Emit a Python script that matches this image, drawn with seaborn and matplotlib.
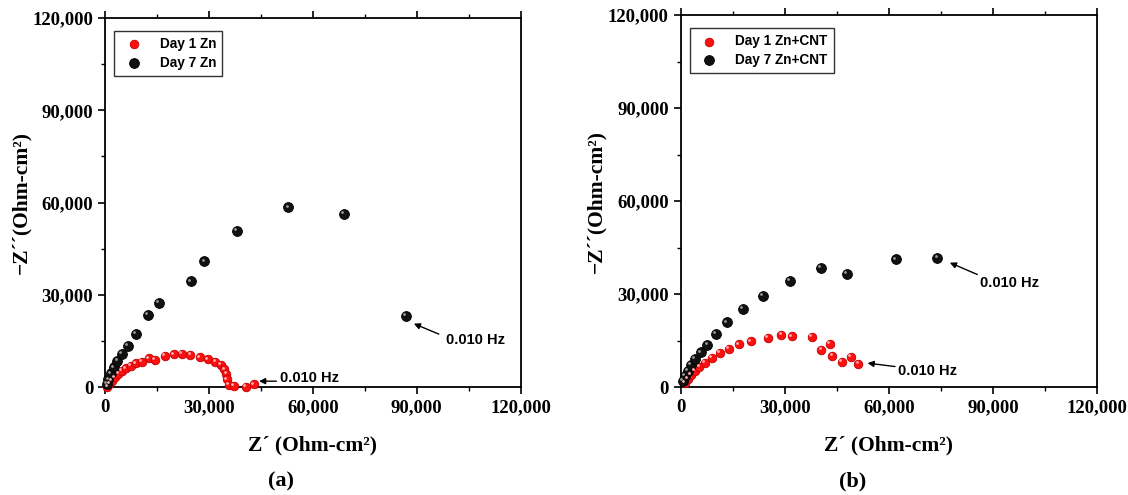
import numpy as np
import pandas as pd
import matplotlib
matplotlib.use("Agg")
import matplotlib.pyplot as plt
import matplotlib.ticker as mticker
import matplotlib.transforms as mtransforms
import seaborn as sns

# dados (Z' , -Z'')
zn_d1_x = [680, 1260, 2030, 2900, 3870, 4930, 6090, 7440, 8990, 10640, 12570, 14500,
           17400, 20000, 22240, 24650, 27350, 29680, 31900, 33550, 34510, 35090,
           35280, 35670, 37200, 40800, 43000]
zn_d1_y = [100, 970, 2050, 3130, 4210, 5180, 6050, 6910, 7670, 8210, 9290, 8750,
           10040, 10590, 10700, 10370, 9610, 8960, 8210, 7130, 5720, 4210,
           2480, 650, 320, 0, 870]
zn_d7_x = [480, 960, 1740, 2610, 3580, 4930, 6670, 8900, 12380, 15660, 24850,
           28710, 37990, 52970, 68930, 86900]
zn_d7_y = [970, 2490, 4440, 6380, 8420, 10690, 13380, 17270, 23330, 27440, 34340,
           40820, 50640, 58420, 56280, 23000]

cnt_d1_x = [1250, 2030, 2990, 4150, 5420, 7050, 8990, 11400, 13830, 16820, 20300,
            25140, 29090, 32190, 37790, 40600, 43110, 43790, 46400, 49100, 51240]
cnt_d1_y = [1200, 2490, 3890, 5180, 6580, 7870, 9290, 10920, 12410, 13710, 14680,
            15780, 16850, 16300, 16100, 11990, 13930, 10040, 8000, 9620, 7450]
cnt_d7_x = [580, 1250, 2030, 2990, 4150, 5800, 7740, 10240, 13430, 18070, 23780,
            31520, 40510, 47850, 62150, 74040]
cnt_d7_y = [2050, 3560, 5280, 7130, 8970, 11130, 13610, 17080, 20840, 25170, 29480,
            34340, 38460, 36510, 41150, 41700]

paineis = [
    {"sub": "(a)", "names": ["Day 1 Zn", "Day 7 Zn"],
     "d1": (zn_d1_x, zn_d1_y), "d7": (zn_d7_x, zn_d7_y),
     # (texto x, texto y, cauda x, cauda y, ponta x, ponta y)
     "notas": [(50500, 2900, 49500, 1900, 44500, 1900),
               (98600, 15200, 96400, 17200, 89200, 20600)]},
    {"sub": "(b)", "names": ["Day 1 Zn+CNT", "Day 7 Zn+CNT"],
     "d1": (cnt_d1_x, cnt_d1_y), "d7": (cnt_d7_x, cnt_d7_y),
     "notas": [(62600, 5200, 61800, 6600, 53900, 7700),
               (86400, 33700, 85500, 36300, 77600, 40100)]},
]

SERIF = "Liberation Serif"
SANS = "Liberation Sans"

sns.set_style("white")
plt.rcParams["font.family"] = [SERIF, "DejaVu Serif"]
plt.rcParams["text.color"] = "black"
plt.rcParams["axes.labelcolor"] = "black"
plt.rcParams["xtick.color"] = "black"
plt.rcParams["ytick.color"] = "black"

fig = plt.figure(figsize=(11.28, 4.95), dpi=100)
posicoes = [[105 / 1128, 1 - 387 / 495, 415.5 / 1128, 369 / 495],
            [680.5 / 1128, 1 - 387 / 495, 416.5 / 1128, 372 / 495]]
centros_sub = [281 / 1128, 853 / 1128]

for p, pos, cx in zip(paineis, posicoes, centros_sub):
    ax = fig.add_axes(pos)
    df = pd.concat([
        pd.DataFrame({"x": p["d1"][0], "y": p["d1"][1], "serie": p["names"][0]}),
        pd.DataFrame({"x": p["d7"][0], "y": p["d7"][1], "serie": p["names"][1]}),
    ], ignore_index=True)

    cores = {p["names"][0]: "#ff1010", p["names"][1]: "#111111"}
    bordas = {p["names"][0]: "#c00000", p["names"][1]: "#000000"}
    brilho = {p["names"][0]: "#ffb0b0", p["names"][1]: "#9a9a9a"}
    tamanhos = {p["names"][0]: 38, p["names"][1]: 50}

    for nome in p["names"]:
        sub = df[df["serie"] == nome]
        sns.scatterplot(data=sub, x="x", y="y", ax=ax, color=cores[nome],
                        edgecolor=bordas[nome], linewidth=0.6, s=tamanhos[nome],
                        label=nome, zorder=3, clip_on=False)
        # reflexo para parecer esfera
        off = mtransforms.offset_copy(ax.transData, fig=fig, x=-1.3, y=1.3, units="points")
        ax.scatter(sub["x"], sub["y"], s=4, color=brilho[nome], linewidths=0,
                   transform=off, zorder=4, clip_on=False)

    ax.set_xlim(0, 120000)
    ax.set_ylim(0, 120000)
    ax.xaxis.set_major_locator(mticker.MultipleLocator(30000))
    ax.yaxis.set_major_locator(mticker.MultipleLocator(30000))
    ax.xaxis.set_minor_locator(mticker.MultipleLocator(15000))
    ax.yaxis.set_minor_locator(mticker.MultipleLocator(15000))
    fmt = mticker.FuncFormatter(lambda v, _: f"{int(v):,}")
    ax.xaxis.set_major_formatter(fmt)
    ax.yaxis.set_major_formatter(fmt)

    ax.tick_params(which="major", direction="out", length=5, width=1.2,
                   bottom=True, left=True, top=True, right=False, colors="black")
    ax.tick_params(which="minor", direction="out", length=3, width=1.0,
                   bottom=True, left=True, top=True, right=False, colors="black")
    ax.tick_params(axis="x", which="both", top=True, labeltop=False)
    for lab in ax.get_xticklabels() + ax.get_yticklabels():
        lab.set_fontfamily(SERIF)
        lab.set_fontweight("bold")
        lab.set_fontsize(13.5)
        lab.set_color("black")

    for sp in ax.spines.values():
        sp.set_color("black")
        sp.set_linewidth(1.3)

    ax.set_xlabel("Z\u00b4 (Ohm-cm\u00b2)", fontsize=15.5, fontweight="bold",
                  family=SERIF, labelpad=14, color="black")
    ax.set_ylabel("\u2212Z\u00b4\u00b4(Ohm-cm\u00b2)", fontsize=15.5, fontweight="bold",
                  family=SERIF, labelpad=1, color="black")

    for tx, ty, ax0, ay0, ax1, ay1 in p["notas"]:
        ax.annotate("", xy=(ax1, ay1), xytext=(ax0, ay0),
                    arrowprops=dict(arrowstyle="-|>", color="black", lw=1.0,
                                    mutation_scale=9, shrinkA=0, shrinkB=0))
        ax.text(tx, ty, "0.010 Hz", fontsize=10.5, fontweight="bold", family=SANS,
                ha="left", va="center", color="black")

    leg = ax.legend(loc="upper left", bbox_to_anchor=(0.022, 0.965), frameon=True,
                    fancybox=False, edgecolor="black", borderpad=0.45,
                    handletextpad=0.9, labelspacing=0.35, borderaxespad=0,
                    prop={"family": SANS, "weight": "bold", "size": 9.8})
    leg.get_frame().set_linewidth(1.0)
    for t in leg.get_texts():
        t.set_color("black")

    fig.text(cx, 1 - 481 / 495, p["sub"], ha="center", va="center",
             fontsize=16, fontweight="bold", family=SERIF, color="black")

fig.savefig("out.png", dpi=100)
